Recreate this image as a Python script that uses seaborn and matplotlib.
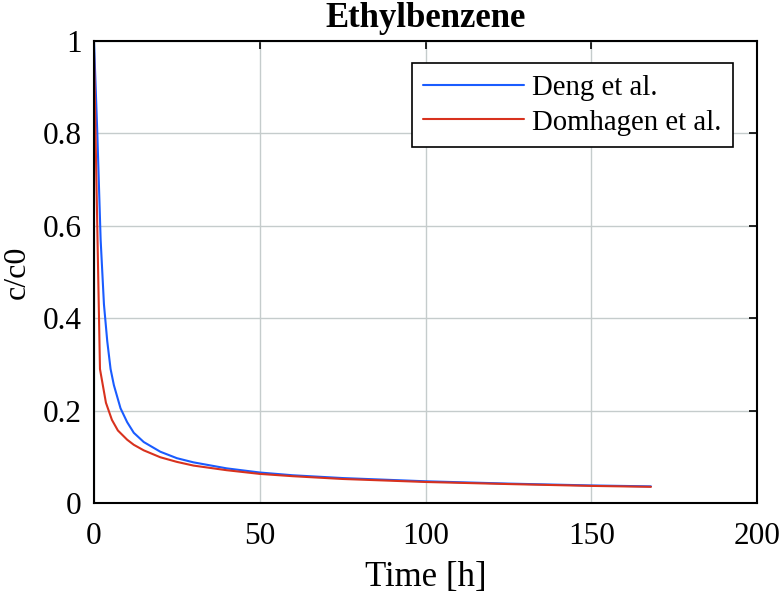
import numpy as np
import pandas as pd
import matplotlib
matplotlib.use("Agg")
import matplotlib.pyplot as plt
import seaborn as sns

# Data
deng_t = [0, 1, 2, 3, 4, 5, 6, 8, 10, 12, 15, 20, 25, 30, 40, 50, 60, 75, 100, 125, 150, 168]
deng_c = [1.0, 0.80, 0.57, 0.43, 0.35, 0.29, 0.255, 0.205, 0.175, 0.152, 0.132, 0.111,
          0.097, 0.088, 0.075, 0.066, 0.060, 0.054, 0.047, 0.042, 0.038, 0.036]
domh_t = [0, 1.8, 3.6, 5.4, 7.2, 10, 12, 15, 20, 25, 30, 40, 50, 60, 75, 100, 125, 150, 168]
domh_c = [0.975, 0.29, 0.217, 0.18, 0.157, 0.137, 0.126, 0.114, 0.099, 0.089, 0.081,
          0.071, 0.063, 0.058, 0.052, 0.0455, 0.041, 0.037, 0.035]
labels = ["Deng et al.", "Domhagen et al."]
title = "Ethylbenzene"
xticks = [0, 50, 100, 150, 200]
yticks = [0, 0.2, 0.4, 0.6, 0.8, 1.0]
ytick_labels = ["0", "0.2", "0.4", "0.6", "0.8", "1"]

df = pd.concat([
    pd.DataFrame({"t": deng_t, "c": deng_c, "src": labels[0]}),
    pd.DataFrame({"t": domh_t, "c": domh_c, "src": labels[1]}),
])

sns.set_theme(style="white")
plt.rcParams["font.family"] = ["Liberation Serif", "DejaVu Serif"]
plt.rcParams["text.color"] = "black"
plt.rcParams["axes.labelcolor"] = "black"

fig = plt.figure(figsize=(7.83, 5.98), dpi=100)
ax = fig.add_axes([94 / 783, 1 - 503 / 598, (757 - 94) / 783, (503 - 41) / 598])

sns.lineplot(data=df, x="t", y="c", hue="src", sort=False,
             palette=["#1a5cff", "#d8321e"], linewidth=1.5, ax=ax, estimator=None)

ax.set_xlim(0, 200)
ax.set_ylim(0, 1)
ax.set_xticks(xticks)
ax.set_xticklabels([str(v) for v in xticks])
ax.set_yticks(yticks)
ax.set_yticklabels(ytick_labels)
ax.grid(True, color="#c5cccc", linewidth=1.0)
ax.set_axisbelow(True)
for s in ax.spines.values():
    s.set_color("black")
    s.set_linewidth(1.5)
ax.tick_params(direction="in", length=6, width=1.2, top=True, right=True,
               labelsize=22.5, colors="black")
ax.tick_params(axis="x", pad=14)
ax.tick_params(axis="y", pad=9)
ax.set_xlabel("Time [h]", fontsize=25, labelpad=7)
ax.set_ylabel("c/c0", fontsize=23, labelpad=8)
ax.set_title(title, fontsize=25, fontweight="bold", pad=10)

leg = ax.legend(loc="upper right", bbox_to_anchor=(0.964, 0.952), fontsize=20.7,
                frameon=True, fancybox=False, edgecolor="black", framealpha=1,
                handlelength=3.5, borderpad=0.4, labelspacing=0.3, handletextpad=0.3,
                borderaxespad=0.0)
leg.get_frame().set_linewidth(1.2)
for txt in leg.get_texts():
    txt.set_color("black")

fig.savefig("out.png", dpi=100)
